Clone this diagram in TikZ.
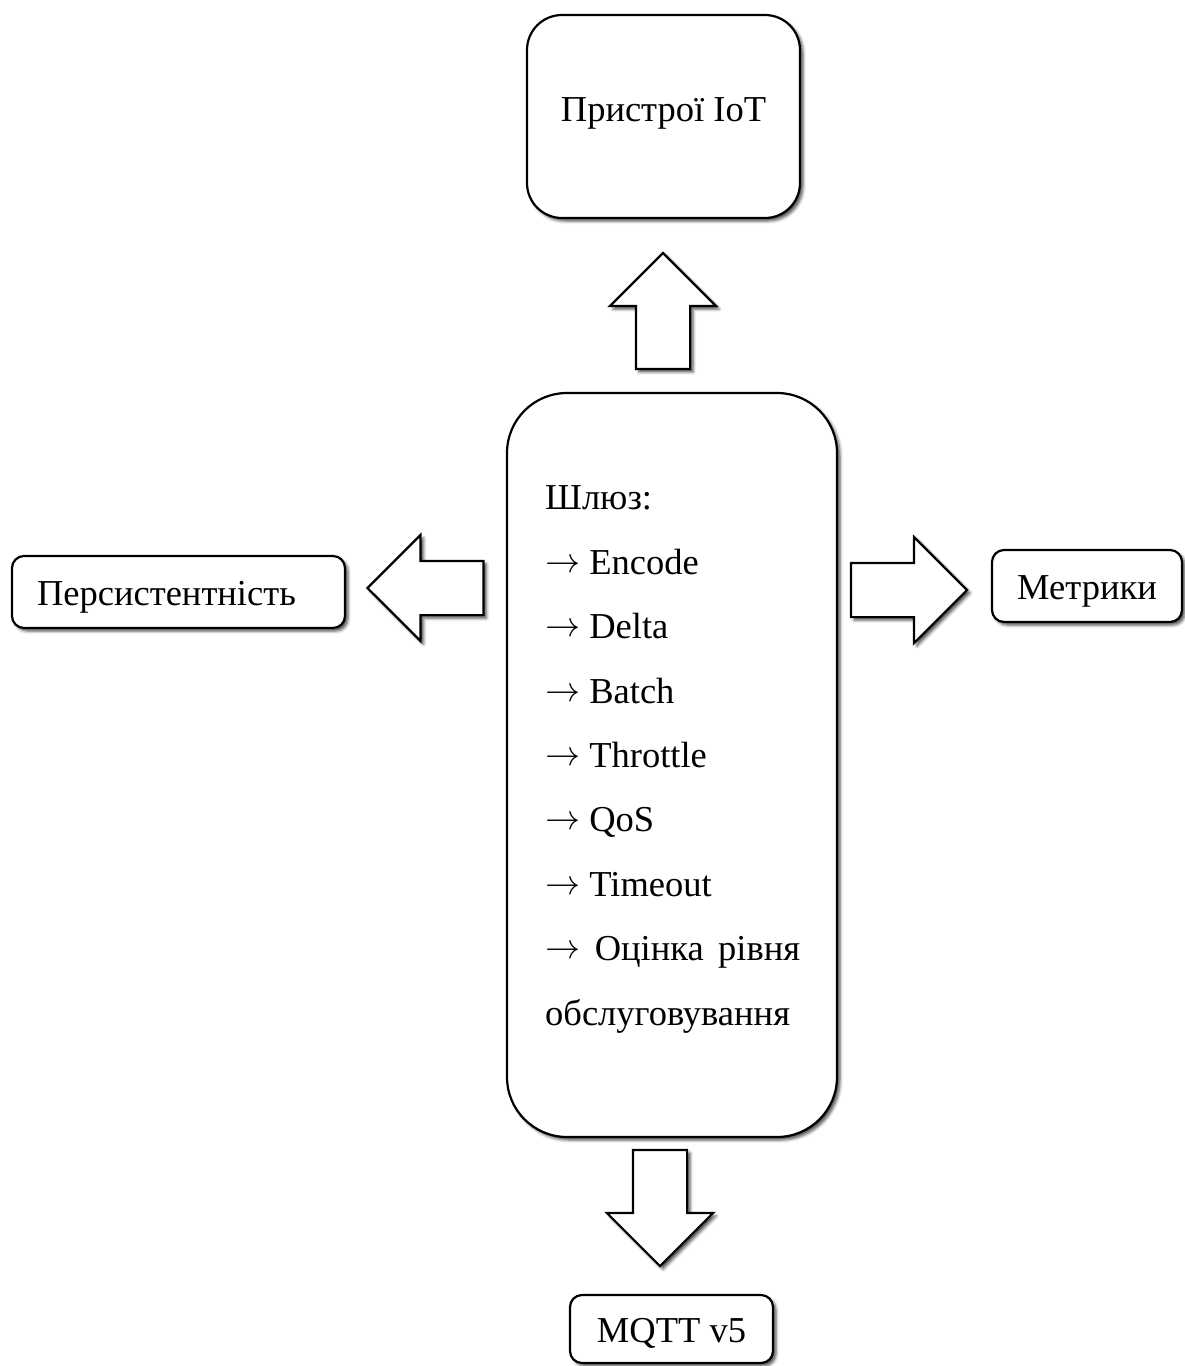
\documentclass[tikz,border=0pt]{standalone}
\usepackage{graphicx}
\usepackage{fontspec}
\setmainfont{Liberation Serif}
\usetikzlibrary{shapes.arrows,shadows.blur}
\newcommand\dgfont{\fontsize{36.5}{64.4}\selectfont}
\newcommand\ra{\raisebox{2pt}{\scalebox{3.5}{\fontsize{10}{12}\selectfont$\rightarrow$}}}
\begin{document}
\begin{tikzpicture}[x=1pt,y=-1pt,
  shad/.style={blur shadow={shadow xshift=3pt, shadow yshift=-3pt, shadow blur radius=3pt, shadow opacity=70}},
  box/.style={draw, line width=2.2pt, fill=white, rounded corners=#1, shad, font=\dgfont, inner sep=0pt},
  sbox/.style={box=12pt, text height=33pt, text depth=7pt},
  barrow/.style={single arrow, draw, line width=2.2pt, fill=white, shad, inner sep=26pt,
    single arrow head extend=26pt, single arrow tip angle=90, minimum height=116pt}]
\useasboundingbox (0,0) rectangle (1184,1366);
% boxes
\node[box=35pt, minimum width=273pt, minimum height=203pt, text height=30pt, text depth=21pt] (iot) at (663.5,116.5) {Пристрої IoT};
\node[box=60pt, minimum width=330pt, minimum height=744pt] (gw) at (672,765) {};
\node[anchor=base west, align=left, inner sep=0pt, font=\dgfont] (gwt) at (545,1025)
  {Шлюз:\\ \ra{} Encode\\ \ra{} Delta\\ \ra{} Batch\\ \ra{} Throttle\\ \ra{} QoS\\ \ra{} Timeout\\ \makebox[255pt][s]{\ra{} Оцінка рівня}\\ обслуговування};
\node[sbox, minimum width=333pt, minimum height=72pt] (pers) at (178.5,592) {Персистентність\hspace*{24pt}};
\node[sbox, minimum width=190pt, minimum height=72pt] (met) at (1087,586) {Метрики};
\node[sbox, minimum width=203pt, minimum height=68pt] (mqtt) at (671.5,1329) {MQTT v5};
% block arrows
\node[barrow, shape border rotate=90] (aup) at (663,324.5) {};
\node[barrow, shape border rotate=180] (aleft) at (439,588) {};
\node[barrow, shape border rotate=0] (aright) at (895.5,590) {};
\node[barrow, shape border rotate=270] (adown) at (660,1194.5) {};
\end{tikzpicture}
\end{document}
